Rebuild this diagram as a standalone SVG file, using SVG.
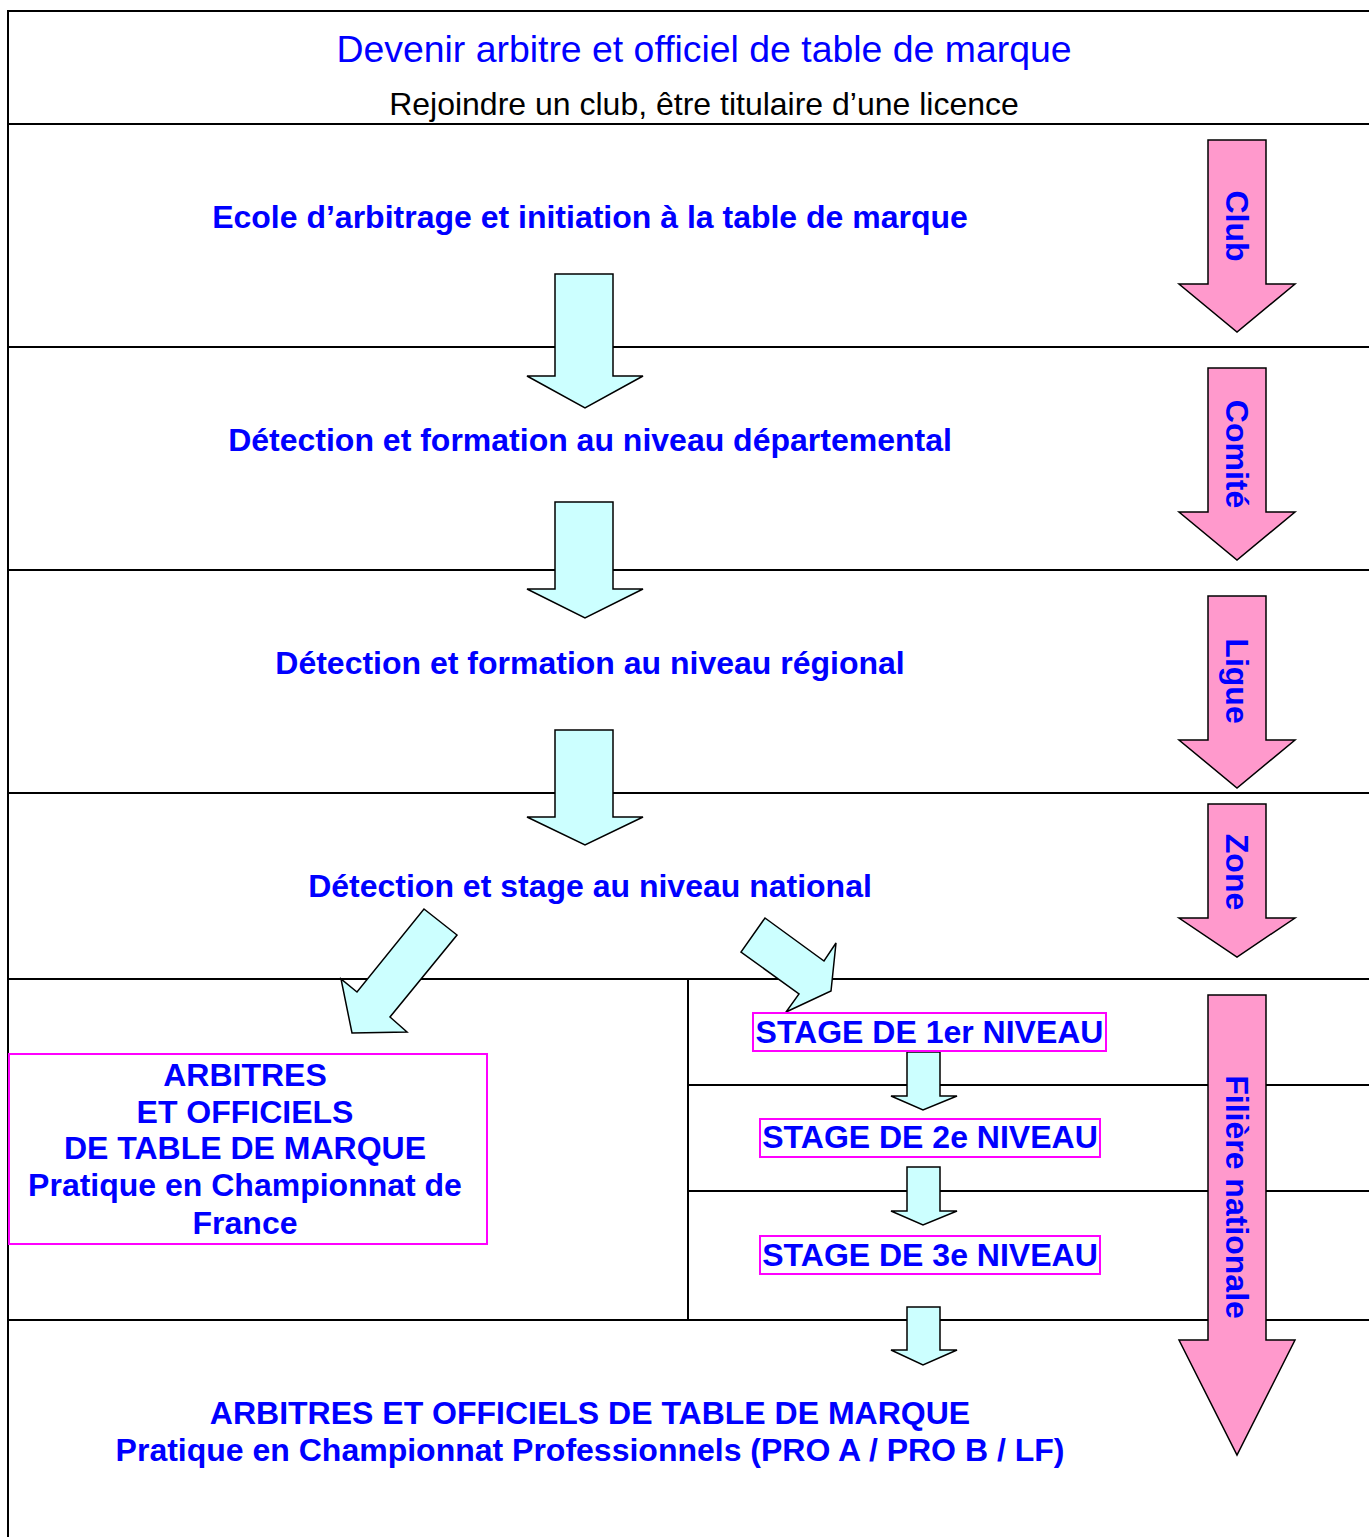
<svg xmlns="http://www.w3.org/2000/svg" width="1369" height="1537" viewBox="0 0 1369 1537">
<style>
.ln{stroke:#000;stroke-width:2;fill:none}
.cy{fill:#CCFFFF;stroke:#000;stroke-width:1.5;stroke-linejoin:miter}
.pk{fill:#FF99CC;stroke:#000;stroke-width:1.5}
.mg{fill:#fff;stroke:#FF00FF;stroke-width:2}
.b{font-family:"Liberation Sans",Arial,sans-serif;font-weight:bold;font-size:32px;fill:#0000FF;text-anchor:middle}
.t{font-family:"Liberation Sans",Arial,sans-serif;font-size:37.4px;fill:#0000FF;text-anchor:middle}
.s{font-family:"Liberation Sans",Arial,sans-serif;font-size:32px;fill:#000;text-anchor:middle}
</style>
<rect width="1369" height="1537" fill="#fff"/>
<g id="frame">
<path class="ln" d="M8,1537 V11 H1369 M8,124 H1369 M8,347 H1369 M8,570 H1369 M8,793 H1369 M8,979 H1369 M688,1085 H1369 M688,1191 H1369 M8,1320 H1369 M688,979 V1320"/>
</g>
<g id="header">
<text class="t" x="704" y="62">Devenir arbitre et officiel de table de marque</text>
<text class="s" x="704" y="115">Rejoindre un club, être titulaire d’une licence</text>
</g>
<g id="connectors">
<polygon class="cy" points="555,274 613,274 613,376 643,376 585,408 527,376 555,376"/>
<polygon class="cy" points="555,502 613,502 613,589 643,589 585,618 527,589 555,589"/>
<polygon class="cy" points="555,730 613,730 613,817 643,817 585,845 527,817 555,817"/>
<polygon class="cy" points="424,909 457,935 390,1017 407,1032 352,1033 341,979 357,992"/>
<polygon class="cy" points="765,918 824,961 836,943 831,991 786,1012 799,994 741,952"/>
<polygon class="cy" points="907,1052 940,1052 940,1096 957,1096 923,1110 891,1096 907,1096"/>
<polygon class="cy" points="907,1167 940,1167 940,1211 957,1211 923,1225 891,1211 907,1211"/>
<polygon class="cy" points="907,1307 940,1307 940,1350 957,1350 923,1365 891,1350 907,1350"/>
</g>
<g id="levels">
<polygon class="pk" points="1208,140 1266,140 1266,284 1295,284 1237,332 1179,284 1208,284"/>
<text class="b" transform="translate(1237,226) rotate(90)" x="0" y="11.5">Club</text>
<polygon class="pk" points="1208,368 1266,368 1266,512 1295,512 1237,560 1179,512 1208,512"/>
<text class="b" transform="translate(1237,454) rotate(90)" x="0" y="11.5">Comité</text>
<polygon class="pk" points="1208,596 1266,596 1266,740 1295,740 1237,788 1179,740 1208,740"/>
<text class="b" transform="translate(1237,681) rotate(90)" x="0" y="11.5">Ligue</text>
<polygon class="pk" points="1208,804 1266,804 1266,918 1295,918 1237,957 1179,918 1208,918"/>
<text class="b" transform="translate(1237,872) rotate(90)" x="0" y="11.5">Zone</text>
<polygon class="pk" points="1208,995 1266,995 1266,1340 1295,1340 1237,1455 1179,1340 1208,1340"/>
<text class="b" transform="translate(1237,1197) rotate(90)" x="0" y="11.5">Filière nationale</text>
</g>
<g id="ecole"><text class="b" x="590" y="228">Ecole d’arbitrage et initiation à la table de marque</text></g>
<g id="departemental"><text class="b" x="590" y="451">Détection et formation au niveau départemental</text></g>
<g id="regional"><text class="b" x="590" y="674">Détection et formation au niveau régional</text></g>
<g id="national"><text class="b" x="590" y="897">Détection et stage au niveau national</text></g>
<g id="championnat-france">
<rect class="mg" x="9" y="1054" width="478" height="190"/>
<text class="b" x="245" y="1086">ARBITRES</text>
<text class="b" x="245" y="1123">ET OFFICIELS</text>
<text class="b" x="245" y="1159">DE TABLE DE MARQUE</text>
<text class="b" x="245" y="1196">Pratique en Championnat de</text>
<text class="b" x="245" y="1234">France</text>
</g>
<g id="stage1">
<rect class="mg" x="753" y="1013" width="353" height="38"/>
<text class="b" x="929.5" y="1043">STAGE DE 1er NIVEAU</text>
</g>
<g id="stage2">
<rect class="mg" x="760" y="1119" width="340" height="38"/>
<text class="b" x="930" y="1148">STAGE DE 2e NIVEAU</text>
</g>
<g id="stage3">
<rect class="mg" x="760" y="1236" width="340" height="38"/>
<text class="b" x="930" y="1266">STAGE DE 3e NIVEAU</text>
</g>
<g id="professionnels">
<text class="b" x="590" y="1424">ARBITRES ET OFFICIELS DE TABLE DE MARQUE</text>
<text class="b" x="590" y="1461">Pratique en Championnat Professionnels (PRO A / PRO B / LF)</text>
</g>
</svg>
